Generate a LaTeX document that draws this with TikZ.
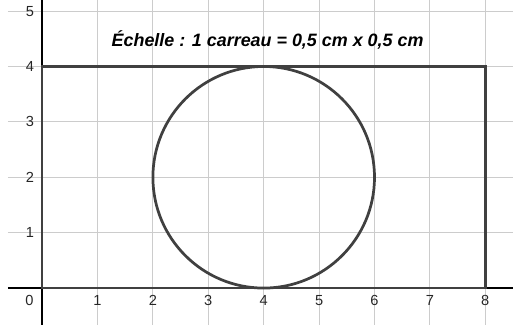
\documentclass[tikz,border=0pt]{standalone}
\usepackage{fontspec}
\setmainfont{Liberation Sans}
\usepackage{xcolor}
\usepackage{tikz}

\begin{document}
\begin{tikzpicture}
    \useasboundingbox (-0.76,-0.66) rectangle (8.5,5.2);
    \clip (-0.76,-0.66) rectangle (8.5,5.2);
    \coordinate (O) at (0, 0);
    \coordinate (A) at (8, 0);
    \coordinate (B) at (8, 4);
    \coordinate (C) at (0, 4);
    \coordinate (M) at (4, 2);

    \draw[black!20, line width=0.5pt] (-0.62,-0.66) grid (8.5,5.2);
    \draw[black, line width=1pt] (-0.62,0) -- (8.5,0);
    \draw[black, line width=1pt] (0,-0.66) -- (0,5.2);

    \foreach \x/\label in {
        1/1, 2/2, 3/3, 4/4, 5/5, 6/6, 7/7, 8/8
    }{
        \node[black!85, font=\fontsize{7.5}{8}\selectfont] (xl\x) at (\x,-0.23) {\label};
    }
    \foreach \y/\label in {
        1/1, 2/2, 3/3, 4/4, 5/5
    }{
        \node[black!85, font=\fontsize{7.5}{8}\selectfont] (yl\y) at (-0.22,\y) {\label};
    }
    \node[black!85, font=\fontsize{7.5}{8}\selectfont] (zero) at (-0.23,-0.23) {0};

    \draw[black!75, line width=1.4pt] (O) -- (A) -- (B) -- (C) -- cycle;
    \draw[black!75, line width=1.4pt] (M) circle (2);

    \node[font=\fontsize{9.2}{10}\selectfont\bfseries\itshape] (echelle) at (4.07,4.48)
        {Échelle : 1 carreau = 0,5 cm x 0,5 cm};
\end{tikzpicture}
\end{document}
